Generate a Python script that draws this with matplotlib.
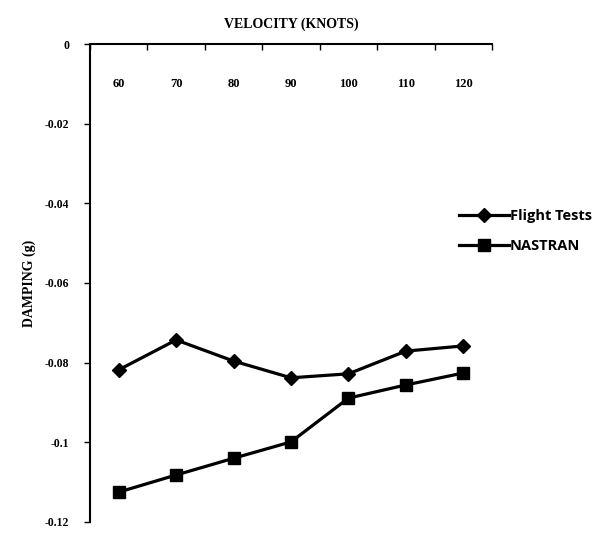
import matplotlib
matplotlib.use("Agg")
import matplotlib.pyplot as plt
from matplotlib.ticker import FixedLocator

velocity = ["60", "70", "80", "90", "100", "110", "120"]
flight_tests = [-0.0818, -0.0743, -0.0796, -0.0838, -0.0828, -0.0771, -0.0758]
nastran = [-0.1125, -0.1082, -0.1040, -0.0999, -0.0889, -0.0856, -0.0826]
y_ticks = [0, -0.02, -0.04, -0.06, -0.08, -0.1, -0.12]
y_labels = ["0", "-0.02", "-0.04", "-0.06", "-0.08", "-0.1", "-0.12"]

SERIF = "Liberation Serif"
SANS = "Open Sans"

fig = plt.figure(figsize=(6.0, 5.34), dpi=100)
ax = fig.add_axes([0.15, 0.0225, 0.67, 0.8951])

x = list(range(len(velocity)))
ax.plot(x, flight_tests, color="black", lw=2.3, marker="D", ms=7, label="Flight Tests")
ax.plot(x, nastran, color="black", lw=2.3, marker="s", ms=8.5, label="NASTRAN")

ax.set_xlim(-0.5, len(velocity) - 0.5)
ax.set_ylim(-0.12, 0)

# category axis drawn along the top, labels sitting underneath the line
ax.xaxis.tick_top()
ax.set_xticks(x)
ax.set_xticklabels(velocity, fontfamily=SERIF, fontweight="bold", fontsize=9)
ax.xaxis.set_minor_locator(FixedLocator([i - 0.5 for i in range(len(velocity) + 1)]))
ax.tick_params(axis="x", which="major", length=0, pad=-33)
ax.tick_params(axis="x", which="minor", length=4, width=1, direction="in", top=True)
ax.xaxis.set_label_position("top")
ax.set_xlabel("VELOCITY (KNOTS)", fontfamily=SERIF, fontweight="bold", fontsize=10, labelpad=8)

ax.set_yticks(y_ticks)
ax.set_yticklabels(y_labels, fontfamily=SERIF, fontweight="bold", fontsize=8.5)
ax.tick_params(axis="y", length=4, width=1, direction="out", pad=11)
ax.set_ylabel("DAMPING (g)", fontfamily=SERIF, fontweight="bold", fontsize=10, labelpad=6)

for s in ["right", "bottom"]:
    ax.spines[s].set_visible(False)
for s in ["left", "top"]:
    ax.spines[s].set_linewidth(1.5)

ax.legend(loc="center left", bbox_to_anchor=(0.743, 0.568), bbox_transform=fig.transFigure,
          frameon=False, handlelength=3.4, handletextpad=0.1, labelspacing=1.1,
          prop={"family": SANS, "weight": "bold", "size": 10.5})

fig.savefig("out.png", dpi=100)
